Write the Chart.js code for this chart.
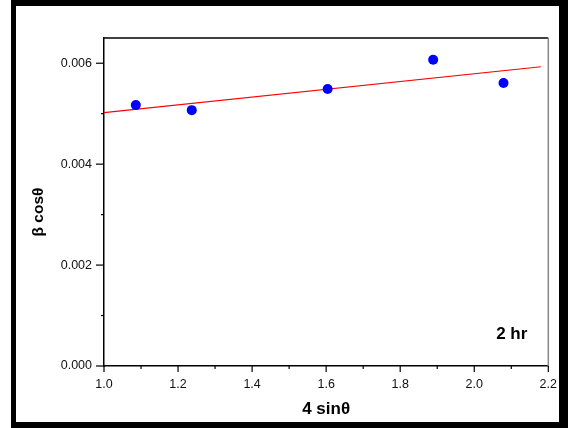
<!DOCTYPE html>
<html>
<head>
<meta charset="utf-8">
<script src="https://cdn.jsdelivr.net/npm/chart.js@4/dist/chart.umd.min.js"></script>
<style>
  html, body { margin: 0; padding: 0; background: #fff; }
  canvas { display: block; }
</style>
</head>
<body>
<canvas id="c" width="568" height="428"></canvas>
<script>
// ---- data ----
const xValues = [1.086, 1.237, 1.604, 1.889, 2.079];
const yValues = [0.00517, 0.00507, 0.00549, 0.00607, 0.00561];
const fitX = [1.0, 2.18];
const fitY = [0.00502, 0.00593];
const xTickRange = [1.0, 2.2, 0.1];
const yTickRange = [0, 0.0065, 0.001];
const xTitle = '4 sin\u03B8';
const yTitle = '\u03B2 cos\u03B8';
const annotationText = '2 hr';

const FONT = "'Liberation Sans', Arial, Helvetica, sans-serif";

const points = xValues.map((x, i) => ({ x, y: yValues[i] }));
const fitLine = fitX.map((x, i) => ({ x, y: fitY[i] }));

const decor = {
  id: 'decor',
  beforeDraw(chart) {
    const ctx = chart.ctx;
    ctx.save();
    ctx.fillStyle = '#fff';
    ctx.fillRect(0, 0, chart.width, chart.height);
    ctx.restore();
  },
  afterDraw(chart) {
    const ctx = chart.ctx;
    const a = chart.chartArea;
    const xs = chart.scales.x, ys = chart.scales.y;
    ctx.save();
    // top & right frame of plot
    ctx.lineWidth = 1.5;
    ctx.strokeStyle = '#000';
    ctx.beginPath();
    ctx.moveTo(a.left, a.top); ctx.lineTo(a.right, a.top);
    ctx.stroke();
    ctx.strokeStyle = '#888';
    ctx.beginPath();
    ctx.moveTo(a.right, a.top); ctx.lineTo(a.right, a.bottom);
    ctx.stroke();
    // ticks (major labelled, minor unlabelled)
    ctx.strokeStyle = '#000';
    ctx.lineWidth = 1.2;
    xs.ticks.forEach(t => {
      const px = xs.getPixelForValue(t.value);
      const major = t.label !== '';
      ctx.beginPath();
      ctx.moveTo(px, a.bottom);
      ctx.lineTo(px, a.bottom + (major ? 6 : 3));
      ctx.stroke();
    });
    ys.ticks.forEach(t => {
      const py = ys.getPixelForValue(t.value);
      const major = t.label !== '';
      ctx.beginPath();
      ctx.moveTo(a.left, py);
      ctx.lineTo(a.left - (major ? 8 : 3), py);
      ctx.stroke();
    });
    // y axis title
    ctx.fillStyle = '#000';
    ctx.save();
    ctx.translate(38.5, (a.top + a.bottom) / 2 + 10);
    ctx.rotate(-Math.PI / 2);
    ctx.font = 'bold 15.5px ' + FONT;
    ctx.textAlign = 'center';
    ctx.textBaseline = 'middle';
    ctx.fillText(yTitle, 0, 0);
    ctx.restore();
    // annotation
    ctx.font = 'bold 17px ' + FONT;
    ctx.textAlign = 'right';
    ctx.textBaseline = 'alphabetic';
    ctx.fillText(annotationText, a.right - 21, a.bottom - 27);
    // outer black frame
    ctx.fillStyle = '#000';
    ctx.fillRect(11, 0, chart.width - 11, 6);
    ctx.fillRect(11, 0, 5, chart.height);
    ctx.fillRect(chart.width - 9, 0, 9, chart.height);
    ctx.fillRect(11, chart.height - 6, chart.width - 11, 6);
    ctx.restore();
  }
};

new Chart(document.getElementById('c'), {
  type: 'scatter',
  data: {
    datasets: [
      {
        type: 'line',
        data: fitLine,
        borderColor: '#ff0000',
        borderWidth: 1.2,
        pointRadius: 0,
        fill: false,
        order: 2
      },
      {
        data: points,
        backgroundColor: '#0000ff',
        borderColor: '#0000ff',
        borderWidth: 0,
        pointRadius: 5,
        order: 1
      }
    ]
  },
  options: {
    responsive: false,
    animation: false,
    devicePixelRatio: 1,
    layout: { padding: { top: 38, right: 18, left: 0, bottom: 0 } },
    plugins: { legend: { display: false }, tooltip: { enabled: false } },
    scales: {
      x: {
        type: 'linear',
        min: xTickRange[0], max: xTickRange[1],
        grid: { display: false, drawTicks: false },
        border: { display: true, color: '#000', width: 1.5 },
        ticks: {
          stepSize: xTickRange[2],
          includeBounds: false,
          padding: 11,
          color: '#111',
          font: { family: FONT, size: 12.5 },
          maxRotation: 0,
          autoSkip: false,
          callback: v => (Math.round(v * 10) % 2 === 0 ? v.toFixed(1) : '')
        },
        title: {
          display: true, text: xTitle, color: '#000',
          font: { family: FONT, size: 17, weight: 'bold' },
          padding: { top: 0, bottom: 8 }
        },
        afterFit: s => { s.height = 62; }
      },
      y: {
        type: 'linear',
        min: yTickRange[0], max: yTickRange[1],
        grid: { display: false, drawTicks: false },
        border: { display: true, color: '#000', width: 1.5 },
        ticks: {
          stepSize: yTickRange[2],
          includeBounds: false,
          padding: 12,
          color: '#111',
          font: { family: FONT, size: 12.5 },
          autoSkip: false,
          callback: v => (Math.round(v * 1000) % 2 === 0 ? v.toFixed(3) : '')
        },
        title: { display: false },
        afterFit: s => { s.width = 104; }
      }
    }
  },
  plugins: [decor]
});
</script>
</body>
</html>
